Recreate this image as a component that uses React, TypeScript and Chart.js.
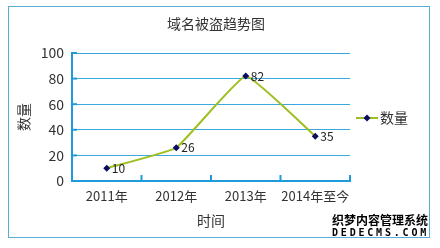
import React, { useEffect, useRef } from "react";
import { Chart, registerables } from "chart.js";

Chart.register(...registerables);

const categories = ["2011年", "2012年", "2013年", "2014年至今"];
const seriesName = "数量";
const seriesValues = [10, 26, 82, 35];
const yTicks = [0, 20, 40, 60, 80, 100];
const chartTitle = "域名被盗趋势图";
const xTitle = "时间";
const yTitle = "数量";

const FONT = "'Noto Sans CJK SC', 'Open Sans', sans-serif";
const AXIS = "#1f9bdc";
const GRID = "#3aa8de";
const LINE = "#9dbf1f";
const MARK = "#0b0b62";
const TEXT = "#333333";

export default function App() {
  const ref = useRef<HTMLCanvasElement | null>(null);

  useEffect(() => {
    if (!ref.current) return;
    const extras = {
      id: "extras",
      afterDraw(chart: any) {
        const ctx = chart.ctx as CanvasRenderingContext2D;
        const area = chart.chartArea;
        ctx.save();
        // title
        ctx.fillStyle = TEXT;
        ctx.font = `14px ${FONT}`;
        ctx.textAlign = "center";
        ctx.textBaseline = "middle";
        ctx.fillText(chartTitle, 216, 24);

        // inward ticks on x axis
        ctx.strokeStyle = AXIS;
        ctx.lineWidth = 2;
        const n = categories.length;
        for (let i = 0; i <= n; i++) {
          const x = area.left + (i * (area.right - area.left)) / n;
          ctx.beginPath();
          ctx.moveTo(x, area.bottom);
          ctx.lineTo(x, area.bottom - 6);
          ctx.stroke();
        }
        // inward ticks on y axis
        const ys = chart.scales.y;
        yTicks.forEach((v) => {
          const y = ys.getPixelForValue(v);
          ctx.beginPath();
          ctx.moveTo(area.left, y);
          ctx.lineTo(area.left + 5, y);
          ctx.stroke();
        });

        // data labels
        const meta = chart.getDatasetMeta(0);
        ctx.fillStyle = "#222222";
        ctx.font = `12px ${FONT}`;
        ctx.textAlign = "left";
        ctx.textBaseline = "middle";
        meta.data.forEach((pt: any, i: number) => {
          ctx.fillText(String(seriesValues[i]), pt.x + 5, pt.y);
        });

        // legend
        const ly = 118;
        ctx.strokeStyle = LINE;
        ctx.lineWidth = 2;
        ctx.beginPath();
        ctx.moveTo(356, ly);
        ctx.lineTo(378, ly);
        ctx.stroke();
        ctx.fillStyle = MARK;
        ctx.beginPath();
        ctx.moveTo(367, ly - 3.5);
        ctx.lineTo(370.5, ly);
        ctx.lineTo(367, ly + 3.5);
        ctx.lineTo(363.5, ly);
        ctx.closePath();
        ctx.fill();
        ctx.fillStyle = TEXT;
        ctx.font = `14px ${FONT}`;
        ctx.textAlign = "left";
        ctx.fillText(seriesName, 380, ly);
        ctx.restore();
      },
    };

    const chart = new Chart(ref.current, {
      type: "line",
      data: {
        labels: categories,
        datasets: [
          {
            label: seriesName,
            data: seriesValues,
            borderColor: LINE,
            borderWidth: 2,
            tension: 0.1,
            pointStyle: "rectRot",
            pointRadius: 3.5,
            pointBackgroundColor: MARK,
            pointBorderColor: MARK,
            pointBorderWidth: 0,
          },
        ],
      },
      options: {
        animation: false,
        responsive: false,
        maintainAspectRatio: false,
        layout: { padding: { top: 53, right: 90, left: 0, bottom: 0 } },
        plugins: {
          legend: { display: false },
          title: { display: false },
          tooltip: { enabled: false },
        },
        scales: {
          x: {
            type: "category",
            offset: true,
            afterFit: (s: any) => {
              s.height = 67;
            },
            grid: { display: true, drawOnChartArea: false, drawTicks: false },
            border: { color: AXIS, width: 2 },
            ticks: {
              color: TEXT,
              font: { family: FONT, size: 13 },
              padding: 7,
              maxRotation: 0,
              minRotation: 0,
              autoSkip: false,
            },
            title: {
              display: true,
              text: xTitle,
              color: TEXT,
              font: { family: FONT, size: 14 },
              padding: { top: 0, bottom: 18.6 },
            },
          },
          y: {
            min: 0,
            max: 100,
            afterFit: (s: any) => {
              s.width = 72;
            },
            afterBuildTicks: (s: any) => {
              s.ticks = yTicks.map((v) => ({ value: v }));
            },
            grid: { color: GRID, lineWidth: 1, drawTicks: false },
            border: { color: AXIS, width: 2 },
            ticks: { color: TEXT, font: { family: FONT, size: 14 }, padding: 8 },
            title: {
              display: true,
              text: yTitle,
              color: TEXT,
              font: { family: FONT, size: 14 },
              padding: { top: 15.6, bottom: 0 },
            },
          },
        },
      },
      plugins: [extras],
    });
    return () => chart.destroy();
  }, []);

  const outline =
    "1px 0 #fff, -1px 0 #fff, 0 1px #fff, 0 -1px #fff, 1px 1px #fff, -1px -1px #fff, 1px -1px #fff, -1px 1px #fff";

  return (
    <div style={{ position: "absolute", left: 0, top: 0, width: 440, height: 248, background: "#ffffff" }}>
      <div
        style={{
          position: "absolute",
          left: 8,
          top: 6,
          width: 420,
          height: 230,
          border: "1px solid #5aaed6",
          boxSizing: "content-box",
        }}
      />
      <canvas ref={ref} width={440} height={248} style={{ position: "absolute", left: 0, top: 0, width: 440, height: 248 }} />
      <div
        style={{
          position: "absolute",
          left: 332,
          top: 213,
          fontFamily: FONT,
          fontWeight: 700,
          fontSize: 12,
          lineHeight: "14px",
          color: "#000",
          textShadow: outline,
          whiteSpace: "nowrap",
        }}
      >
        织梦内容管理系统
      </div>
      <div
        style={{
          position: "absolute",
          left: 332,
          top: 228,
          fontFamily: "'DejaVu Sans Mono', monospace",
          fontWeight: 700,
          fontSize: 10,
          lineHeight: "10px",
          letterSpacing: "2.8px",
          color: "#000",
          textShadow: outline,
          whiteSpace: "nowrap",
        }}
      >
        DEDECMS.COM
      </div>
    </div>
  );
}
